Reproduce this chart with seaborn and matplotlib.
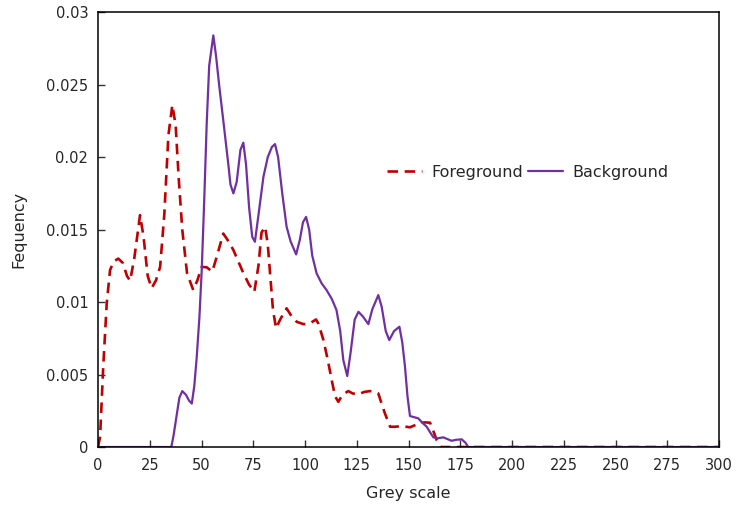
import pandas as pd
import matplotlib
matplotlib.use("Agg")
import matplotlib.pyplot as plt
import seaborn as sns

# grey levels / frequency
fg_grey = [0, 1, 2.5, 4.2, 5.8, 7.5, 9.8, 12, 14, 15.5, 17.5, 20.3, 22, 24, 25.9,
           28, 30, 32, 34, 35.9, 37.5, 39, 40.7, 43, 46, 48, 50.1, 52.5, 55.2,
           57.5, 60.5, 63, 65.4, 70.2, 73, 75.5, 77.5, 79, 80.7, 82, 83.1, 84.5,
           86, 88, 91.1, 93.6, 96, 99.2, 102, 105.3, 106.5, 108.9, 111, 112.9,
           114.5, 116.1, 118, 120.9, 123, 125.8, 128.5, 131.4, 134, 135.4, 137,
           138.6, 141.1, 143.5, 146.7, 150.7, 153, 155.6, 158, 160.4, 162, 163.6,
           165.5, 300]
fg_freq = [0, 0.0007, 0.0055, 0.0099, 0.0122, 0.0128, 0.0130, 0.0127, 0.0118,
           0.01147, 0.0130, 0.0160, 0.0145, 0.0118, 0.01096, 0.0115, 0.01243,
           0.0160, 0.0215, 0.0236, 0.0222, 0.0185, 0.0150, 0.0120, 0.01083,
           0.0115, 0.01243, 0.0124, 0.0121, 0.0132, 0.01473, 0.0142, 0.01359,
           0.0120, 0.0112, 0.01071, 0.0125, 0.0148, 0.0152, 0.0140, 0.0120,
           0.0095, 0.00819, 0.0088, 0.00957, 0.0090, 0.00864, 0.00848, 0.0085,
           0.0088, 0.0085, 0.00738, 0.0060, 0.00462, 0.0035, 0.00312, 0.0036,
           0.00386, 0.0037, 0.00363, 0.0038, 0.00386, 0.0038, 0.0037, 0.0030,
           0.00232, 0.0014, 0.0014, 0.00145, 0.00136, 0.0015, 0.00168, 0.0017,
           0.00168, 0.0011, 0.00048, 0, 0]

bg_grey = [0, 35.4, 36.5, 38, 39.3, 40.7, 42.5, 44, 45.3, 46.5, 47.7, 49, 50.1,
           51.3, 52.5, 53.7, 55.7, 57, 58.5, 60.5, 62.9, 64, 65.4, 67, 68.8, 70.2,
           71.5, 73, 74.5, 75.8, 77.5, 79.9, 82, 84, 85.5, 87, 89, 91.1, 93, 95.7,
           97.5, 99, 100.5, 102, 103.5, 105.6, 108, 110.4, 113, 115.2, 117, 118.5,
           120.4, 122, 124, 125.8, 128, 130.6, 132.5, 135.4, 137, 139, 140.7, 143,
           145.6, 147, 148.3, 149.5, 150.7, 154.7, 156.5, 158.8, 160.5, 162, 164,
           166.8, 170.8, 173, 175.7, 177.5, 178.9, 300]
bg_freq = [0, 0, 0.0008, 0.0022, 0.0034, 0.00386, 0.0036, 0.0032, 0.0030, 0.0042,
           0.00623, 0.0090, 0.0122, 0.0170, 0.0223, 0.0263, 0.0284, 0.0270,
           0.0250, 0.02255, 0.01956, 0.0181, 0.0175, 0.0183, 0.0205, 0.0210,
           0.0195, 0.0165, 0.0145, 0.01416, 0.0160, 0.01864, 0.0200, 0.0207,
           0.0209, 0.0200, 0.0175, 0.0152, 0.0142, 0.01329, 0.0143, 0.0155,
           0.01588, 0.0150, 0.0132, 0.01198, 0.0113, 0.01083, 0.0102, 0.00945,
           0.0080, 0.0060, 0.0049, 0.0065, 0.0088, 0.00933, 0.0090, 0.00848,
           0.0095, 0.01048, 0.0097, 0.0080, 0.00738, 0.0080, 0.0083, 0.0072,
           0.00554, 0.0035, 0.00214, 0.00198, 0.0017, 0.0014, 0.0010, 0.00067,
           0.0006, 0.00067, 0.00043, 0.0005, 0.00053, 0.0003, 0, 0]

x_ticks = list(range(0, 301, 25))
y_ticks = [0, 0.005, 0.01, 0.015, 0.02, 0.025, 0.03]
y_tick_labels = ['0', '0.005', '0.01', '0.015', '0.02', '0.025', '0.03']

sns.set_style('ticks')
plt.rcParams['font.family'] = ['DejaVu Sans']
plt.rcParams['xtick.direction'] = 'in'
plt.rcParams['ytick.direction'] = 'in'

fig, ax = plt.subplots(figsize=(7.37, 5.08), dpi=100)
fig.subplots_adjust(left=0.133, right=0.9756, bottom=0.12, top=0.976)

sns.lineplot(x=fg_grey, y=fg_freq, ax=ax, color='#C00000', linewidth=1.9,
             linestyle=(0, (4, 2.5)), label='Foreground', sort=False)
sns.lineplot(x=bg_grey, y=bg_freq, ax=ax, color='#7030A0', linewidth=1.6,
             label='Background', sort=False)

ax.set_xlim(0, 300)
ax.set_ylim(0, 0.03)
ax.set_xticks(x_ticks)
ax.set_xticklabels([str(t) for t in x_ticks])
ax.set_yticks(y_ticks)
ax.set_yticklabels(y_tick_labels)
ax.tick_params(axis='both', labelsize=10.5, length=5, width=1, color='#333333')
ax.tick_params(axis='x', pad=8)
ax.tick_params(axis='y', pad=7)
for s in ax.spines.values():
    s.set_visible(True)
    s.set_linewidth(1.1)
    s.set_color('black')

ax.set_xlabel('Grey scale', fontsize=11.5, labelpad=9)
ax.set_ylabel('Fequency', fontsize=11.5, labelpad=14)

ax.legend(loc='center', bbox_to_anchor=(0.692, 0.632), ncol=2, frameon=False,
          fontsize=11.5, handlelength=2.2, handletextpad=0.55, columnspacing=0.35)

plt.savefig('out.png', dpi=100)
